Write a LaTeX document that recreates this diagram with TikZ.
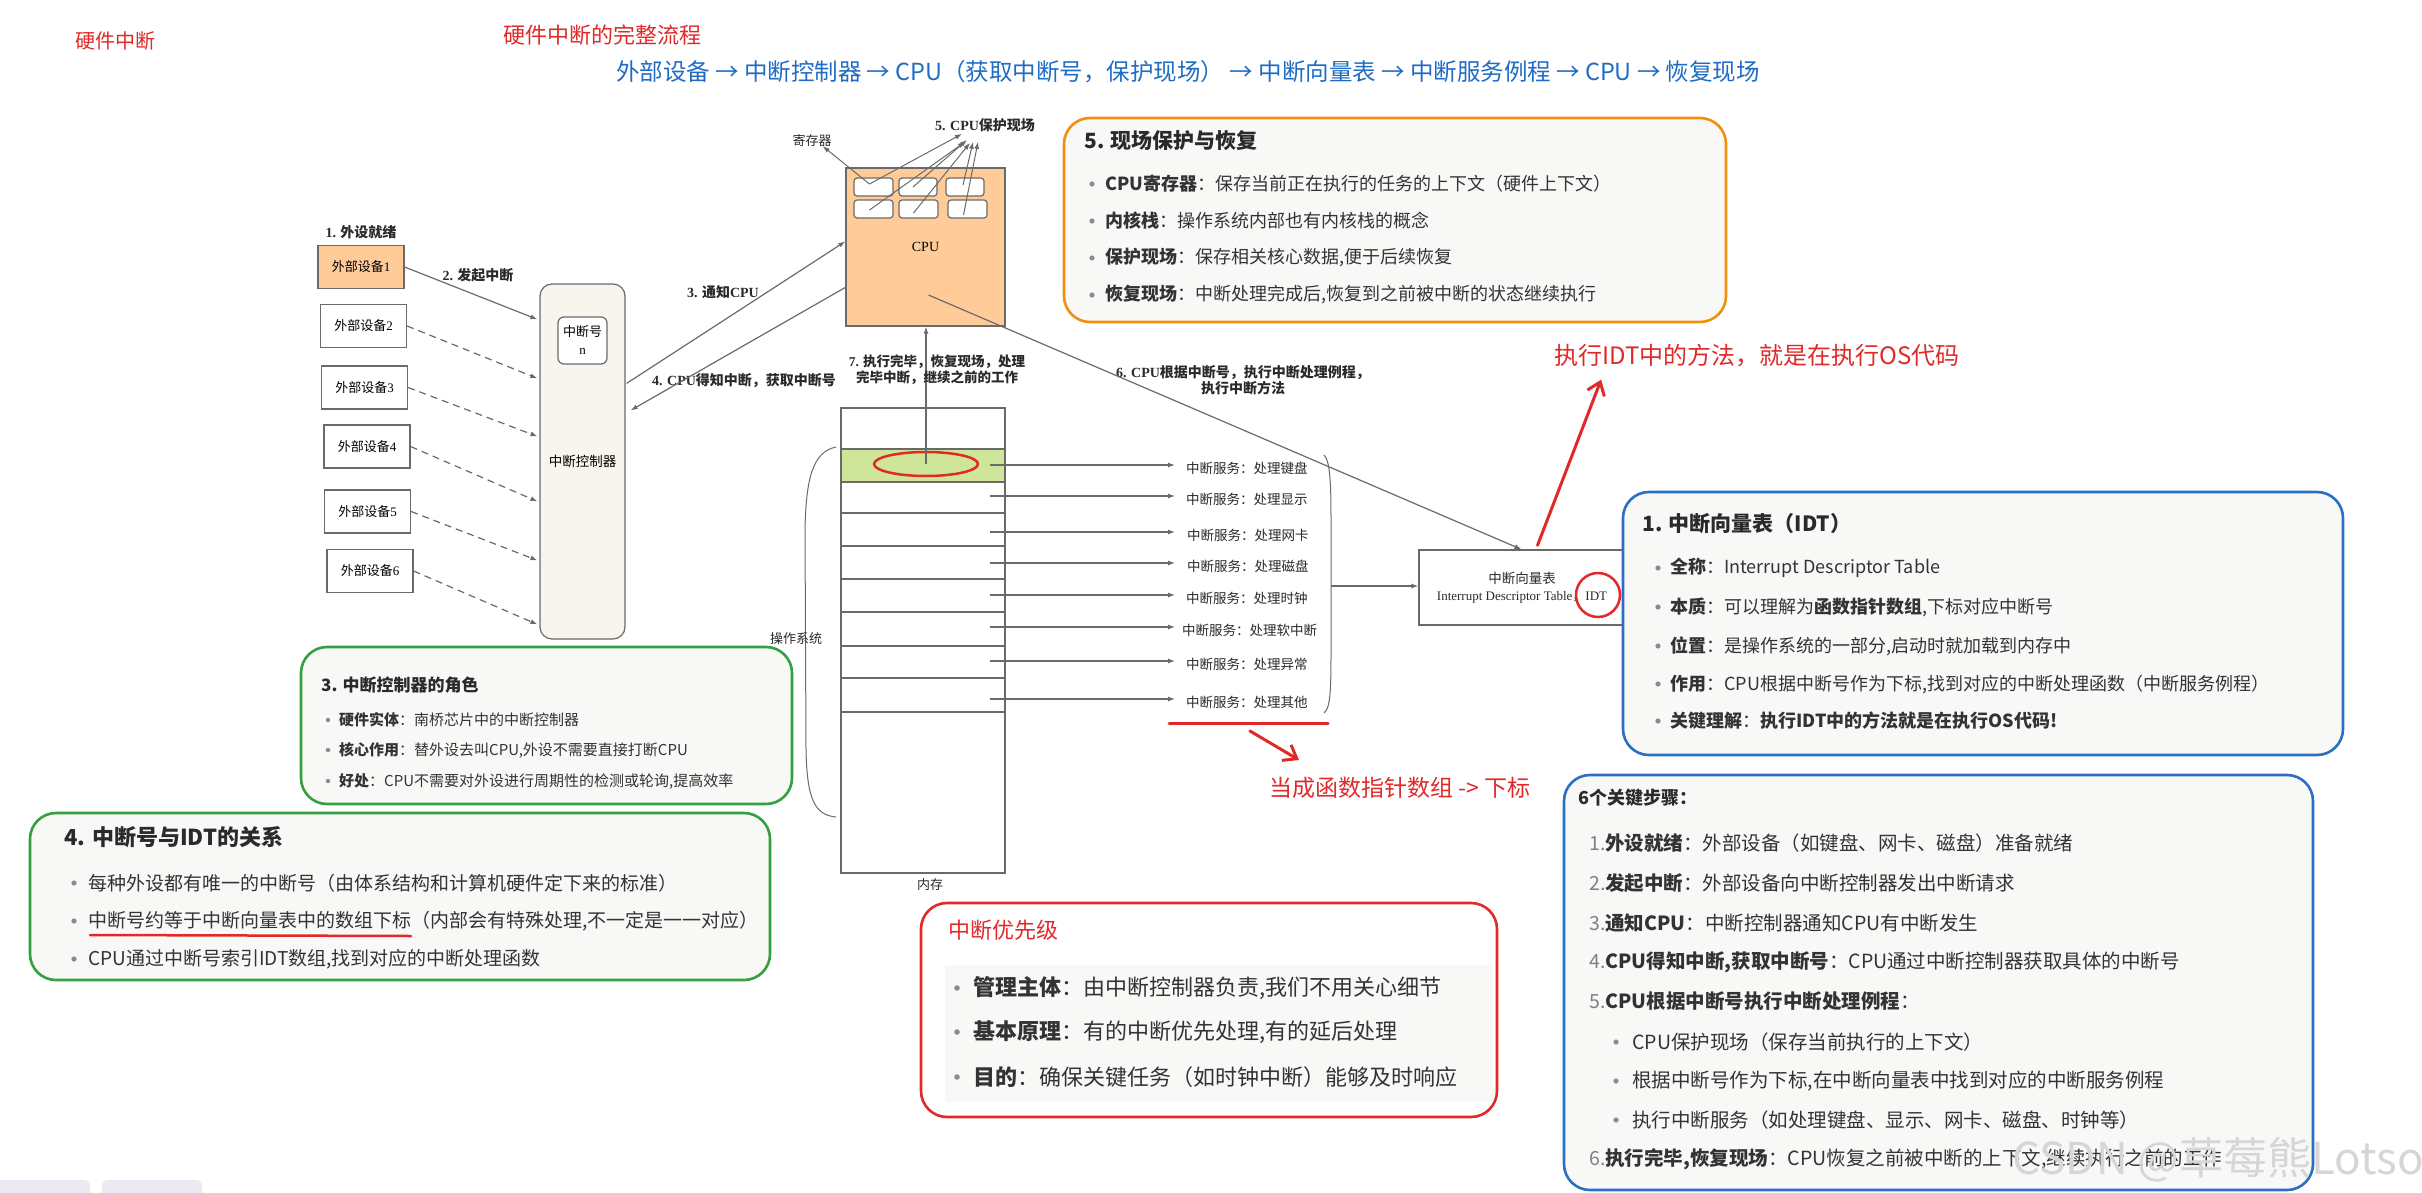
\documentclass[tikz,border=0pt]{standalone}
\usepackage{fontspec}
\setmainfont{Noto Sans CJK SC}
\newfontfamily\serif{Liberation Serif}
\usetikzlibrary{arrows.meta,calc,shapes.geometric}
\definecolor{ora}{HTML}{F0900C}
\definecolor{grn}{HTML}{35A040}
\definecolor{rd}{HTML}{E02A2A}
\definecolor{blu}{HTML}{2A6FC4}
\definecolor{flowblue}{HTML}{1F6CC4}
\definecolor{peach}{HTML}{FFCC99}
\definecolor{lgreen}{HTML}{CFE69A}
\definecolor{beige}{HTML}{F7F5EE}
\definecolor{panelbg}{HTML}{F8F8F6}
\definecolor{tabbg}{HTML}{EAEAF3}
\definecolor{txt}{HTML}{2A2A2A}
\definecolor{edgec}{HTML}{6A6A6A}
\newcommand\fsz[1]{\fontsize{#1}{#1}\selectfont}
\newcommand\fsl[2]{\fontsize{#1}{#2}\selectfont}
\begin{document}
\begin{tikzpicture}[x=1pt,y=-1pt,
 ln/.style={draw=edgec,line width=1.2pt},
 arr/.style={ln,-{Latex[length=7pt,width=5pt]}},
 darr/.style={arr,dash pattern=on 7pt off 5pt},
 lbl/.style={inner sep=0pt,text=txt},
 dl/.style={lbl,font=\fsz{14}\bfseries},
 box/.style={draw=edgec,line width=1.2pt,inner sep=0pt},
 dev/.style={box,fill=white,minimum width=86pt,minimum height=43pt,font=\fsz{13}},
 reg/.style={box,fill=white,rounded corners=3pt,minimum height=18pt},
 row/.style={draw=edgec,line width=1.2pt,minimum width=164pt,inner sep=0pt},
 svc/.style={lbl,anchor=west,font=\fsz{13.5}},
 panel/.style={line width=2.6pt,rounded corners=26pt,fill=panelbg},
 pline/.style={lbl,anchor=west,text=black!80},
 bul/.style={fill=black!45},
 redpen/.style={draw=rd,line width=3pt,line cap=round},
 redarr/.style={redpen,-{Straight Barb[length=12pt,width=18pt]}},
]
\useasboundingbox (0,0) rectangle (2422,1193);
\fill[white] (0,0) rectangle (2422,1193);

% ---------- top titles ----------
\node[lbl,text=rd,font=\fsz{20}] (t1) at (115,41) {硬件中断};
\node[lbl,text=rd,font=\fsz{22}] (t2) at (602,35) {硬件中断的完整流程};
\node[lbl,text=flowblue,font=\fsz{23.5}] (t3) at (1188,72) {外部设备 → 中断控制器 → CPU（获取中断号，保护现场） → 中断向量表 → 中断服务例程 → CPU → 恢复现场};

% ---------- devices & controller ----------
\node[dev,fill=peach] (d1) at (361,267) {外部设备{\serif 1}};
\node[dev] (d2) at (363.5,326) {外部设备{\serif 2}};
\node[dev] (d3) at (364.5,387.5) {外部设备{\serif 3}};
\node[dev] (d4) at (367,446.5) {外部设备{\serif 4}};
\node[dev] (d5) at (367.5,511.5) {外部设备{\serif 5}};
\node[dev] (d6) at (370,571) {外部设备{\serif 6}};
\node[box,fill=beige,rounded corners=12pt,minimum width=85pt,minimum height=355pt,font=\fsz{13.5}] (ctrl) at (582.5,461.5) {中断控制器};
\node[box,fill=white,rounded corners=6pt,minimum width=49pt,minimum height=47pt,font=\fsl{13}{18},align=center] (irqn) at (582.5,340.5) {中断号\\{\serif n}};

\node[dl] (l1) at (361,232) {{\serif 1.} 外设就绪};
\node[dl] (l2) at (478,275) {{\serif 2.} 发起中断};
\node[dl] (l3) at (723,292) {{\serif 3.} 通知{\serif CPU}};
\node[dl] (l4) at (744,381) {{\serif 4. CPU}得知中断，获取中断号};

\draw[arr] (d1.east) -- ($(ctrl.north west)+(-2,36)$);
\draw[darr] (d2.east) -- ($(ctrl.north west)+(-2,95)$);
\draw[darr] (d3.east) -- ($(ctrl.north west)+(-2,153)$);
\draw[darr] (d4.east) -- ($(ctrl.north west)+(-2,218)$);
\draw[darr] (d5.east) -- ($(ctrl.north west)+(-2,277)$);
\draw[darr] (d6.east) -- ($(ctrl.north west)+(-2,341)$);

% ---------- CPU ----------
\node[box,fill=peach,minimum width=159pt,minimum height=158pt,font=\serif\fsz{14}] (cpu) at (925.5,247) {CPU};
\node[reg,minimum width=39pt] (r1) at (873.5,187) {};
\node[reg,minimum width=38pt] (r2) at (918,187) {};
\node[reg,minimum width=38pt] (r3) at (965,187) {};
\node[reg,minimum width=39pt] (r4) at (873.5,209) {};
\node[reg,minimum width=39pt] (r5) at (918.5,209) {};
\node[reg,minimum width=39pt] (r6) at (967.5,209) {};
\node[lbl,font=\fsz{13}] (regl) at (812,141) {寄存器};
\node[dl] (prot) at (985,125) {{\serif 5. CPU}保护现场};

\begin{scope}[arr/.append style={line width=1pt}]
\draw[arr] ($(r1.center)+(-4,-3)$) -- ($(regl.south east)+(-9,-1)$);
\draw[arr] ($(r1.center)+(-4,-3)$) -- ($(prot.south)+(-23,2)$);
\draw[arr] ($(r2.center)+(-5,0)$) -- ($(prot.south)+(-18,8)$);
\draw[arr] ($(r4.center)+(-4,1)$) -- ($(prot.south)+(-20,10)$);
\draw[arr] ($(r5.center)+(-5,4)$) -- ($(prot.south)+(-15,11)$);
\draw[arr] ($(r3.center)+(-2,-2)$) -- ($(prot.south)+(-12,10)$);
\draw[arr] ($(r6.center)+(-4,6)$) -- ($(prot.south)+(-7,10)$);
\end{scope}

\draw[arr] ($(ctrl.north east)+(1,100)$) -- ($(cpu.north west)+(0,74)$);
\draw[arr] ($(cpu.north west)+(0,120)$) -- ($(ctrl.north east)+(5,127)$);

% ---------- memory ----------
\node[box,minimum width=164pt,minimum height=465pt] (mem) at (923,640.5) {};
\node[lbl,font=\fsz{13}] (meml) at (930,885) {内存};
\node[row,fill=lgreen,minimum height=33pt] (m1) at (923,465.5) {};
\node[row,minimum height=31pt] (m2) at (923,497.5) {};
\node[row,minimum height=33pt] (m3) at (923,529.5) {};
\node[row,minimum height=33pt] (m4) at (923,562.5) {};
\node[row,minimum height=33pt] (m5) at (923,595.5) {};
\node[row,minimum height=34pt] (m6) at (923,629) {};
\node[row,minimum height=32pt] (m7) at (923,662) {};
\node[row,minimum height=34pt] (m8) at (923,695) {};
\node[draw=rd,line width=2.5pt,ellipse,minimum width=104pt,minimum height=24pt,inner sep=0pt] (sel) at (926,464) {};
\draw[arr] (sel.center) -- (cpu.south -| sel.center);

\node[lbl,align=center,font=\fsl{13.5}{16}\bfseries] (l7) at (937,370) {{\serif 7.} 执行完毕，恢复现场，处理\\完毕中断，继续之前的工作};
\node[lbl,align=center,font=\fsl{14}{16}\bfseries] (l6) at (1243,380) {{\serif 6. CPU}根据中断号，执行中断处理例程，\\执行中断方法};

\draw[ln,line width=1pt] (836,447) .. controls (812,452) and (806,480) .. (805,530) -- (806,750) .. controls (807,800) and (815,815) .. (836,817);
\node[lbl,font=\fsz{13}] (osl) at (796,639) {操作系统};

\node[svc] (s1) at (1186,468) {中断服务：处理键盘};
\node[svc] (s2) at (1186,499) {中断服务：处理显示};
\node[svc] (s3) at (1187,535) {中断服务：处理网卡};
\node[svc] (s4) at (1187,566) {中断服务：处理磁盘};
\node[svc] (s5) at (1186,598) {中断服务：处理时钟};
\node[svc] (s6) at (1182,630) {中断服务：处理软中断};
\node[svc] (s7) at (1186,664) {中断服务：处理异常};
\node[svc] (s8) at (1186,702) {中断服务：处理其他};
\foreach \s/\m/\g in {s1/m1/11,s2/m2/11,s3/m3/12,s4/m4/12,s5/m5/11,s6/m6/7,s7/m7/11,s8/m8/11}{
  \draw[arr] ($(\s.west -| \m.east)+(-16,-3)$) -- ($(\s.west)+(-\g,-3)$);
}
\draw[ln,line width=1pt] (1324,455) .. controls (1331,462) and (1331,490) .. (1331,530) -- (1331,650) .. controls (1331,695) and (1330,708) .. (1324,713);
\coordinate (btip) at (1331,586);

% ---------- IDT ----------
\node[box,fill=white,minimum width=205pt,minimum height=75pt] (idt) at (1521.5,587.5) {};
\node[lbl,font=\fsz{13.5}] (idt1) at (1522,578) {中断向量表};
\node[lbl,font=\fsz{13}] (idt2) at (1522,597) {{\serif Interrupt Descriptor Table}，{\serif IDT}};
\node[draw=rd,line width=2.5pt,ellipse,minimum width=44pt,minimum height=44pt,inner sep=0pt] (idtc) at (1598,595) {};
\draw[arr] (btip) -- (btip -| idt.west);
\draw[arr] ($(cpu.center)+(3,48)$) -- (idt.north);

\node[lbl,text=rd,font=\fsz{24}] (rt) at (1757,356) {执行IDT中的方法，就是在执行OS代码};
\draw[redarr] ($(idt.north)+(16,-4)$) -- ($(rt.south west)+(47,12)$);

\draw[redpen] (1169,723) -- (1328,723);
\draw[redarr] (1250,731) -- (1299,760);
\node[lbl,text=rd,font=\fsz{23}] (fp) at (1400,788) {当成函数指针数组 -> 下标};

% ---------- box 5 ----------
\draw[panel,draw=ora] (1064,118) rectangle (1726,322);
\node[lbl,anchor=west,font=\fsz{21}\bfseries] (p5t) at (1084,141) {5. 现场保护与恢复};
\foreach \y in {184,221,258,295} \fill[bul] (1092,\y) circle (2.6pt);
\node[pline,font=\fsz{18}] (p5a) at (1105,184) {\textbf{CPU寄存器}：保存当前正在执行的任务的上下文（硬件上下文）};
\node[pline,font=\fsz{18}] (p5b) at (1105,221) {\textbf{内核栈}：操作系统内部也有内核栈的概念};
\node[pline,font=\fsz{18}] (p5c) at (1105,258) {\textbf{保护现场}：保存相关核心数据,便于后续恢复};
\node[pline,font=\fsz{18}] (p5d) at (1105,295) {\textbf{恢复现场}：中断处理完成后,恢复到之前被中断的状态继续执行};

% ---------- IDT box ----------
\draw[panel,draw=blu] (1623,492) rectangle (2343,755);
\node[lbl,anchor=west,font=\fsz{21}\bfseries] (pit) at (1642,524) {1. 中断向量表（IDT）};
\foreach \y in {568,607,646,684,721} \fill[bul] (1658,\y) circle (2.6pt);
\node[pline,font=\fsz{18}] (pia) at (1670,568) {\textbf{全称}：Interrupt Descriptor Table};
\node[pline,font=\fsz{18}] (pib) at (1670,607) {\textbf{本质}：可以理解为\textbf{函数指针数组},下标对应中断号};
\node[pline,font=\fsz{18}] (pic) at (1670,646) {\textbf{位置}：是操作系统的一部分,启动时就加载到内存中};
\node[pline,font=\fsz{18}] (pid) at (1670,684) {\textbf{作用}：CPU根据中断号作为下标,找到对应的中断处理函数（中断服务例程）};
\node[pline,font=\fsz{18}] (pie) at (1670,721) {\textbf{关键理解}：\textbf{执行IDT中的方法就是在执行OS代码!}};

% ---------- box 3 ----------
\draw[panel,draw=grn] (301,647) rectangle (792,804);
\node[lbl,anchor=west,font=\fsz{17}\bfseries] (p3t) at (321,685) {3. 中断控制器的角色};
\foreach \y in {720,750,781} \fill[bul] (328,\y) circle (2.2pt);
\node[pline,font=\fsz{15}] (p3a) at (339,720) {\textbf{硬件实体}：南桥芯片中的中断控制器};
\node[pline,font=\fsz{15}] (p3b) at (339,750) {\textbf{核心作用}：替外设去叫CPU,外设不需要直接打断CPU};
\node[pline,font=\fsz{15}] (p3c) at (339,781) {\textbf{好处}：CPU不需要对外设进行周期性的检测或轮询,提高效率};

% ---------- box 4 ----------
\draw[panel,draw=grn] (30,813) rectangle (770,980);
\node[lbl,anchor=west,font=\fsz{22}\bfseries] (p4t) at (64,837) {4. 中断号与IDT的关系};
\foreach \y in {883,921,959} \fill[bul] (74,\y) circle (2.6pt);
\node[pline,font=\fsz{19}] (p4a) at (88,883) {每种外设都有唯一的中断号（由体系结构和计算机硬件定下来的标准）};
\node[pline,font=\fsz{19}] (p4b) at (88,921) {中断号约等于中断向量表中的数组下标（内部会有特殊处理,不一定是一一对应）};
\node[pline,font=\fsz{19}] (p4c) at (88,959) {CPU通过中断号索引IDT数组,找到对应的中断处理函数};
\draw[redpen,line width=2.5pt] (90,935) -- (411,936);

% ---------- priority ----------
\draw[panel,draw=rd,fill=white] (921,903) rectangle (1497,1117);
\fill[panelbg] (945,965) rectangle (1493,1102);
\node[lbl,anchor=west,text=rd,font=\fsz{22}] (ppt) at (948,930) {中断优先级};
\foreach \y in {988,1032,1077} \fill[bul] (957,\y) circle (2.8pt);
\node[pline,font=\fsz{22}] (ppa) at (973,988) {\textbf{管理主体}：由中断控制器负责,我们不用关心细节};
\node[pline,font=\fsz{22}] (ppb) at (973,1032) {\textbf{基本原理}：有的中断优先处理,有的延后处理};
\node[pline,font=\fsz{22}] (ppc) at (973,1077) {\textbf{目的}：确保关键任务（如时钟中断）能够及时响应};

% ---------- 6 steps ----------
\draw[panel,draw=blu] (1564,775) rectangle (2313,1190);
\node[lbl,anchor=west,font=\fsz{18}\bfseries] (pst) at (1578,798) {6个关键步骤：};
\node[pline,font=\fsz{19.5}] (ps1) at (1589,843) {{\color{black!50}1.}\textbf{外设就绪}：外部设备（如键盘、网卡、磁盘）准备就绪};
\node[pline,font=\fsz{19.5}] (ps2) at (1589,883) {{\color{black!50}2.}\textbf{发起中断}：外部设备向中断控制器发出中断请求};
\node[pline,font=\fsz{19.5}] (ps3) at (1589,923) {{\color{black!50}3.}\textbf{通知CPU}：中断控制器通知CPU有中断发生};
\node[pline,font=\fsz{19.5}] (ps4) at (1589,962) {{\color{black!50}4.}\textbf{CPU得知中断,获取中断号}：CPU通过中断控制器获取具体的中断号};
\node[pline,font=\fsz{19.5}] (ps5) at (1589,1001) {{\color{black!50}5.}\textbf{CPU根据中断号执行中断处理例程}：};
\foreach \y in {1042,1081,1120} \fill[bul] (1616,\y) circle (2.6pt);
\node[pline,font=\fsz{19.5}] (ps5a) at (1632,1042) {CPU保护现场（保存当前执行的上下文）};
\node[pline,font=\fsz{19.5}] (ps5b) at (1632,1081) {根据中断号作为下标,在中断向量表中找到对应的中断服务例程};
\node[pline,font=\fsz{19.5}] (ps5c) at (1632,1120) {执行中断服务（如处理键盘、显示、网卡、磁盘、时钟等）};
\node[pline,font=\fsz{19.5}] (ps6) at (1589,1159) {{\color{black!50}6.}\textbf{执行完毕,恢复现场}：CPU恢复之前被中断的上下文,继续执行之前的工作};

% ---------- watermark & tabs ----------
\node[lbl,text=black!16,font=\fsz{44},anchor=east] (wm) at (2424,1160) {CSDN @草莓熊Lotso};
\fill[tabbg,rounded corners=6pt] (-10,1180) rectangle (90,1205);
\fill[tabbg,rounded corners=6pt] (102,1180) rectangle (202,1205);
\end{tikzpicture}
\end{document}
